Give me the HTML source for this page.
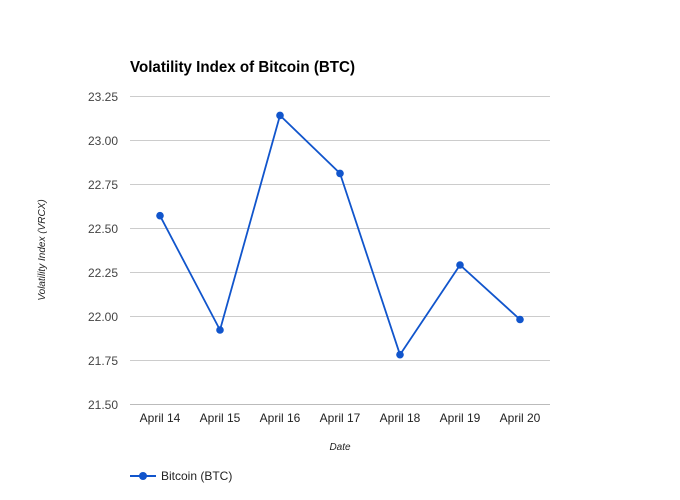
<!DOCTYPE html>
<html><head><meta charset="utf-8"><style>
html,body{margin:0;padding:0;background:#fff;}
svg{display:block;font-family:"Liberation Sans",Arial,sans-serif;}
</style></head><body>
<svg width="680" height="500" viewBox="0 0 680 500">
<rect width="680" height="500" fill="#fff"/>
<text x="130" y="72" font-size="15.5" font-weight="bold" fill="#000" textLength="225" lengthAdjust="spacingAndGlyphs">Volatility Index of Bitcoin (BTC)</text>
<g stroke="#cccccc" stroke-width="1">
<line x1="130" x2="550" y1="96.5" y2="96.5"/>
<line x1="130" x2="550" y1="140.5" y2="140.5"/>
<line x1="130" x2="550" y1="184.5" y2="184.5"/>
<line x1="130" x2="550" y1="228.5" y2="228.5"/>
<line x1="130" x2="550" y1="272.5" y2="272.5"/>
<line x1="130" x2="550" y1="316.5" y2="316.5"/>
<line x1="130" x2="550" y1="360.5" y2="360.5"/>
<line x1="130" x2="550" y1="404.5" y2="404.5" stroke="#bbb"/>
</g>
<g font-size="12" fill="#444" text-anchor="end">
<text x="118" y="101">23.25</text>
<text x="118" y="145">23.00</text>
<text x="118" y="189">22.75</text>
<text x="118" y="233">22.50</text>
<text x="118" y="277">22.25</text>
<text x="118" y="321">22.00</text>
<text x="118" y="365">21.75</text>
<text x="118" y="409">21.50</text>
</g>
<g font-size="12" fill="#222" text-anchor="middle">
<text x="160" y="422">April 14</text>
<text x="220" y="422">April 15</text>
<text x="280" y="422">April 16</text>
<text x="340" y="422">April 17</text>
<text x="400" y="422">April 18</text>
<text x="460" y="422">April 19</text>
<text x="520" y="422">April 20</text>
</g>
<text x="340" y="450" font-size="10" font-style="italic" fill="#222" text-anchor="middle">Date</text>
<text transform="translate(45,250) rotate(-90)" font-size="10" font-style="italic" fill="#222" text-anchor="middle">Volatility Index (VRCX)</text>
<polyline fill="none" stroke="#1155cc" stroke-width="1.8" points="160,215.7 220,330 280,115.4 340,173.4 400,354.7 460,265 520,319.5"/>
<g fill="#1155cc">
<circle cx="160" cy="215.7" r="3.8"/>
<circle cx="220" cy="330" r="3.8"/>
<circle cx="280" cy="115.4" r="3.8"/>
<circle cx="340" cy="173.4" r="3.8"/>
<circle cx="400" cy="354.7" r="3.8"/>
<circle cx="460" cy="265" r="3.8"/>
<circle cx="520" cy="319.5" r="3.8"/>
</g>
<line x1="130" x2="156" y1="476" y2="476" stroke="#1155cc" stroke-width="2"/>
<circle cx="143" cy="476" r="4" fill="#1155cc"/>
<text x="161" y="480" font-size="12" fill="#222">Bitcoin (BTC)</text>
</svg>
</body></html>
